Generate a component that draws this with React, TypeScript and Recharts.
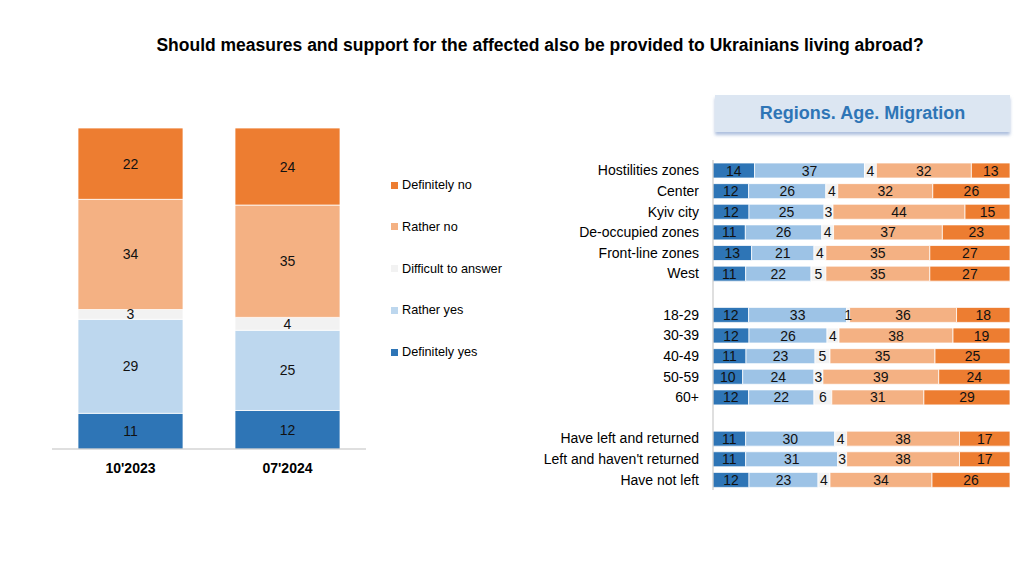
import React from 'react';
import { BarChart, Bar, XAxis, YAxis, LabelList } from 'recharts';

const answers = ['Definitely yes', 'Rather yes', 'Difficult to answer', 'Rather no', 'Definitely no'];
const leftColors = ['#2E75B6', '#BDD7EE', '#F2F2F2', '#F4B183', '#ED7D31'];
const rightColors = ['#2E75B6', '#9DC3E6', '#F2F2F2', '#F4B183', '#ED7D31'];

// overall, by wave
const waves = ["10'2023", "07'2024"];
const wDefYes = [11, 12];
const wRatherYes = [29, 25];
const wDifficult = [3, 4];
const wRatherNo = [34, 35];
const wDefNo = [22, 24];

// regions / age / migration (blank rows are spacers, 0 = no bar)
const groups = [
  'Hostilities zones', 'Center', 'Kyiv city', 'De-occupied zones', 'Front-line zones', 'West', '',
  '18-29', '30-39', '40-49', '50-59', '60+', ' ',
  'Have left and returned', "Left and haven't returned", 'Have not left',
];
const gDefYes = [14, 12, 12, 11, 13, 11, 0, 12, 12, 11, 10, 12, 0, 11, 11, 12];
const gRatherYes = [37, 26, 25, 26, 21, 22, 0, 33, 26, 23, 24, 22, 0, 30, 31, 23];
const gDifficult = [4, 4, 3, 4, 4, 5, 0, 1, 4, 5, 3, 6, 0, 4, 3, 4];
const gRatherNo = [32, 32, 44, 37, 35, 35, 0, 36, 38, 35, 39, 31, 0, 38, 38, 34];
const gDefNo = [13, 26, 15, 23, 27, 27, 0, 18, 19, 25, 24, 29, 0, 17, 17, 26];

const keys = ['dy', 'ry', 'dk', 'rn', 'dn'];
const waveSeries = [wDefYes, wRatherYes, wDifficult, wRatherNo, wDefNo];
const groupSeries = [gDefYes, gRatherYes, gDifficult, gRatherNo, gDefNo];

const waveData = waves.map((name, i) => {
  const row: any = { name };
  keys.forEach((k, j) => (row[k] = waveSeries[j][i]));
  return row;
});

const groupData = groups.map((name, i) => {
  const row: any = { name };
  keys.forEach((k, j) => (row[k] = groupSeries[j][i]));
  return row;
});

const gridTicks = Array.from({ length: groups.length + 1 }, (_, i) => i);

const FONT = '"Liberation Sans", Arial, sans-serif';

const renderLabel = (props: any) => {
  const { x, y, width, height, value } = props;
  if (!value) return null;
  return (
    <text
      x={x + width / 2}
      y={y + height / 2}
      textAnchor="middle"
      dominantBaseline="central"
      fontSize={14}
      fontFamily={FONT}
      fill="#111"
    >
      {value}
    </text>
  );
};

const App: React.FC = () => {
  return (
    <div style={{ position: 'absolute', left: 0, top: 0, width: 1024, height: 586, background: '#fff', fontFamily: FONT, overflow: 'hidden' }}>
      <div style={{ position: 'absolute', left: 28, top: 35, width: 1024, textAlign: 'center', fontWeight: 'bold', fontSize: 17.5, color: '#000' }}>
        Should measures and support for the affected also be provided to Ukrainians living abroad?
      </div>

      {/* overall stacked columns */}
      <div style={{ position: 'absolute', left: 0, top: 0 }}>
        <BarChart width={380} height={500} data={waveData} stackOffset="expand" margin={{ top: 128, left: 52, right: 14, bottom: 21 }} barSize={105}>
          <XAxis
            dataKey="name"
            height={30}
            tickLine={false}
            axisLine={{ stroke: '#BFBFBF' }}
            tick={{ fontSize: 14, fontWeight: 'bold', fill: '#000', fontFamily: FONT }}
            tickMargin={8}
          />
          <YAxis hide type="number" domain={[0, 1]} />
          {keys.map((k, j) => (
            <Bar key={k} dataKey={k} stackId="a" fill={leftColors[j]} stroke="#fff" strokeWidth={0.75} isAnimationActive={false}>
              <LabelList dataKey={k} content={renderLabel} />
            </Bar>
          ))}
        </BarChart>
      </div>

      {/* legend */}
      {answers.slice().reverse().map((a, i) => (
        <div key={a} style={{ position: 'absolute', left: 391, top: 178 + i * 41.8, display: 'flex', alignItems: 'center', fontSize: 12.7, color: '#000' }}>
          <span style={{ display: 'inline-block', width: 7, height: 7, background: leftColors[4 - i], marginRight: 4 }} />
          {a}
        </div>
      ))}

      {/* panel header */}
      <div style={{ position: 'absolute', left: 715, top: 95, width: 295, height: 37, background: '#DCE6F2', boxShadow: '0 3px 3px rgba(120,150,200,0.6)', display: 'flex', alignItems: 'center', justifyContent: 'center', color: '#2E75B6', fontWeight: 'bold', fontSize: 18 }}>
        Regions. Age. Migration
      </div>

      {/* groups horizontal stacked bars */}
      <div style={{ position: 'absolute', left: 500, top: 0 }}>
        <BarChart width={524} height={520} data={groupData} layout="vertical" stackOffset="expand" margin={{ top: 160, left: 13, right: 14, bottom: 30 }} barSize={15}>
          <XAxis hide type="number" domain={[0, 1]} />
          <YAxis
            yAxisId="cat"
            type="category"
            dataKey="name"
            width={200}
            interval={0}
            tickLine={false}
            axisLine={false}
            tickMargin={8}
            tick={{ fontSize: 14, fill: '#000', fontFamily: FONT }}
          />
          <YAxis
            yAxisId="grid"
            type="number"
            domain={[0, groups.length]}
            ticks={gridTicks}
            interval={0}
            mirror
            width={1}
            tick={false}
            tickSize={-5}
            tickLine={{ stroke: '#BFBFBF' }}
            axisLine={{ stroke: '#BFBFBF' }}
          />
          {keys.map((k, j) => (
            <Bar key={k} yAxisId="cat" dataKey={k} stackId="g" fill={rightColors[j]} stroke="#fff" strokeWidth={0.75} isAnimationActive={false}>
              <LabelList dataKey={k} content={renderLabel} />
            </Bar>
          ))}
        </BarChart>
      </div>
    </div>
  );
};

export default App;
